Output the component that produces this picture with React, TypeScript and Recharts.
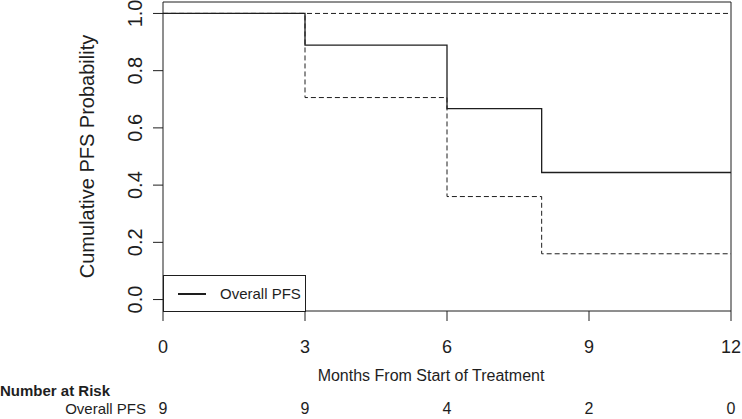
import { LineChart, Line, XAxis, YAxis, Legend, ReferenceArea } from "recharts";

const months = [0, 3, 6, 8, 12];
const survival = [1.0, 0.889, 0.667, 0.444, 0.444];
const lowerCI = [1.0, 0.706, 0.36, 0.16, 0.16];
const upperCI = [1.0, 1.0, 1.0, 1.0, 1.0];

const xTicks = [0, 3, 6, 9, 12];
const yTicks = [0, 0.2, 0.4, 0.6, 0.8, 1.0];
const atRisk = [9, 9, 4, 2, 0];

const data = months.map((m, i) => ({
  month: m,
  pfs: survival[i],
  lower: lowerCI[i],
  upper: upperCI[i]
}));

const INK = "#1e1e1e";

function YTick(props: any) {
  const { x, y, payload } = props;
  const bx = x - 11;
  return (
    <text x={bx} y={y} transform={`rotate(-90, ${bx}, ${y})`} textAnchor="middle" fontSize={20} fill={INK}>
      {payload.value.toFixed(1)}
    </text>
  );
}

function YTitle(props: any) {
  const { viewBox } = props;
  const bx = viewBox.x + 94;
  const cy = viewBox.y + viewBox.height / 2;
  return (
    <text x={bx} y={cy} transform={`rotate(-90, ${bx}, ${cy})`} textAnchor="middle" fontSize={20} fill={INK}>
      Cumulative PFS Probability
    </text>
  );
}

function XTitle(props: any) {
  const { viewBox } = props;
  const cx = viewBox.x + viewBox.width / 2 - 16;
  return (
    <text x={cx} y={viewBox.y + viewBox.height} textAnchor="middle" fontSize={16} fill={INK}>
      Months From Start of Treatment
    </text>
  );
}

function RiskLabels(props: any) {
  const { viewBox } = props;
  return (
    <g fill={INK}>
      <text x={0} y={viewBox.y + 15} fontSize={15} fontWeight="bold">
        Number at Risk
      </text>
      <text x={viewBox.x - 17} y={viewBox.y + 33} fontSize={15} textAnchor="end">
        Overall PFS
      </text>
    </g>
  );
}

function LegendBox() {
  return (
    <div
      style={{
        width: 143,
        height: 37,
        border: `1px solid ${INK}`,
        boxSizing: "border-box",
        background: "#fff",
        display: "flex",
        alignItems: "center",
        fontSize: 15,
        color: INK
      }}
    >
      <svg width={56} height={10}>
        <line x1={14} x2={42} y1={5} y2={5} stroke={INK} strokeWidth={2} />
      </svg>
      <span>Overall PFS</span>
    </div>
  );
}

export default function App() {
  return (
    <div style={{ position: "absolute", left: 0, top: 0, fontFamily: "'Liberation Sans', Arial, sans-serif" }}>
      <LineChart width={742} height={419} data={data} margin={{ top: 2, right: 11, bottom: 0, left: 0 }}>
        <XAxis
          xAxisId="main"
          dataKey="month"
          type="number"
          domain={[0, 12]}
          ticks={xTicks}
          height={70}
          axisLine={false}
          tickSize={10}
          tickMargin={19}
          tickLine={{ stroke: INK }}
          tick={{ fontSize: 18, fill: INK }}
          label={<XTitle />}
        />
        <XAxis
          xAxisId="risk"
          dataKey="month"
          type="number"
          domain={[0, 12]}
          ticks={xTicks}
          height={38}
          axisLine={false}
          tickLine={false}
          tickSize={0}
          tickMargin={22}
          tick={{ fontSize: 16, fill: INK }}
          tickFormatter={(v: number) => String(atRisk[xTicks.indexOf(v)])}
          label={<RiskLabels />}
        />
        <YAxis
          domain={[-0.04, 1.04]}
          ticks={yTicks}
          width={163}
          axisLine={false}
          tickSize={10}
          tickMargin={0}
          tickLine={{ stroke: INK }}
          tick={<YTick />}
          label={<YTitle />}
        />
        <ReferenceArea xAxisId="main" x1={0} x2={12} y1={-0.04} y2={1.04} fill="none" stroke={INK} strokeWidth={1} />
        <Line
          xAxisId="main"
          type="stepAfter"
          dataKey="upper"
          stroke={INK}
          strokeWidth={1}
          strokeDasharray="5 3"
          dot={false}
          isAnimationActive={false}
        />
        <Line
          xAxisId="main"
          type="stepAfter"
          dataKey="lower"
          stroke={INK}
          strokeWidth={1}
          strokeDasharray="5 3"
          dot={false}
          isAnimationActive={false}
        />
        <Line
          xAxisId="main"
          type="stepAfter"
          dataKey="pfs"
          name="Overall PFS"
          stroke={INK}
          strokeWidth={1.3}
          dot={false}
          isAnimationActive={false}
        />
        <Legend
          layout="horizontal"
          align="center"
          verticalAlign="middle"
          content={<LegendBox />}
          wrapperStyle={{ left: 163, top: 275, width: 143, height: 37 }}
        />
      </LineChart>
    </div>
  );
}
